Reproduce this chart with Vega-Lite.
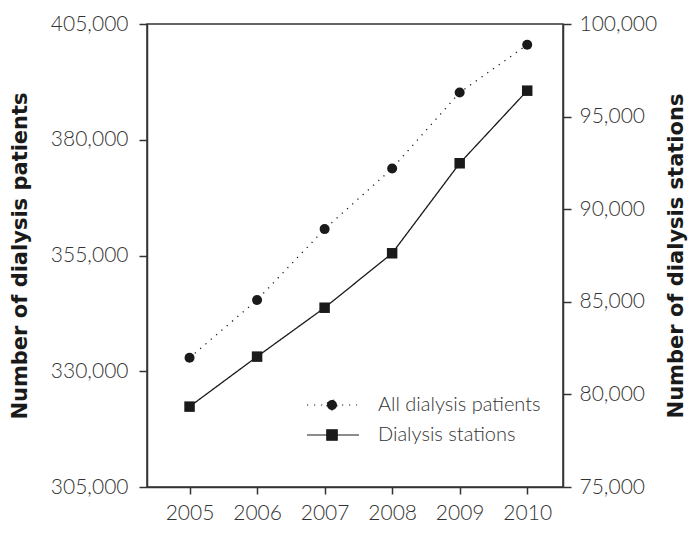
{
  "$schema": "https://vega.github.io/schema/vega-lite/v6.json",
  "width": 416,
  "height": 463,
  "autosize": "none",
  "padding": {"left": 147, "top": 24, "right": 126, "bottom": 46},
  "background": "white",
  "data": {
    "values": [
      {"year": 2005, "patients": 332900, "stations": 79340},
      {"year": 2006, "patients": 345400, "stations": 82040},
      {"year": 2007, "patients": 360700, "stations": 84680},
      {"year": 2008, "patients": 373800, "stations": 87620},
      {"year": 2009, "patients": 390200, "stations": 92480},
      {"year": 2010, "patients": 400500, "stations": 96400}
    ]
  },
  "encoding": {
    "x": {
      "field": "year",
      "type": "quantitative",
      "scale": {"domain": [2004.37, 2010.53], "nice": false, "zero": false},
      "axis": {
        "title": null,
        "values": [2005, 2006, 2007, 2008, 2009, 2010],
        "format": "d",
        "labelOverlap": false,
        "tickSize": 7,
        "labelPadding": 8,
        "grid": false
      }
    }
  },
  "layer": [
    {
      "encoding": {
        "y": {
          "field": "patients",
          "type": "quantitative",
          "scale": {"domain": [305000, 405000], "nice": false, "zero": false},
          "axis": {
            "orient": "left",
            "title": "Number of dialysis patients",
            "values": [305000, 330000, 355000, 380000, 405000],
            "format": ",.0f",
            "labelOverlap": false,
            "tickSize": 8,
            "labelPadding": 11,
            "titleX": -127,
            "titleY": 231.5,
            "titleAngle": -90,
            "titleBaseline": "middle",
            "titleAlign": "center",
            "grid": false
          }
        }
      },
      "layer": [
        {
          "mark": {"type": "line", "strokeWidth": 1.3, "color": "#1a1a1a"},
          "encoding": {
            "strokeDash": {
              "datum": "All dialysis patients",
              "type": "nominal",
              "scale": {"domain": ["All dialysis patients", "Dialysis stations"], "range": [[1.2, 5.8], [1, 0]]},
              "legend": {
                "title": null,
                "encode": {
                  "symbols": {
                    "update": {
                      "shape": {"signal": "datum.value === 'All dialysis patients' ? 'M-2.5,0H2.5M-0.5,0A0.5,0.5,0,1,0,0.5,0A0.5,0.5,0,1,0,-0.5,0Z' : 'M-2.5,0H2.7M-0.52,-0.52H0.52V0.52H-0.52Z'"},
                      "fill": {"value": "#1a1a1a"},
                      "stroke": {"value": "#1a1a1a"},
                      "strokeWidth": {"value": 1.2}
                    }
                  }
                }
              }
            }
          }
        },
        {
          "mark": {"type": "point", "shape": "circle", "filled": true, "size": 100, "color": "#1a1a1a", "opacity": 1}
        }
      ]
    },
    {
      "encoding": {
        "y": {
          "field": "stations",
          "type": "quantitative",
          "scale": {"domain": [75000, 100000], "nice": false, "zero": false},
          "axis": {
            "orient": "right",
            "title": "Number of dialysis stations",
            "values": [75000, 80000, 85000, 90000, 95000, 100000],
            "format": ",.0f",
            "labelOverlap": false,
            "tickSize": 8,
            "labelPadding": 8,
            "titleX": 113,
            "titleY": 231.5,
            "titleAngle": -90,
            "titleBaseline": "middle",
            "titleAlign": "center",
            "grid": false
          }
        }
      },
      "layer": [
        {
          "mark": {"type": "line", "strokeWidth": 1.3, "color": "#1a1a1a"},
          "encoding": {
            "strokeDash": {
              "datum": "Dialysis stations",
              "type": "nominal",
              "legend": {"title": null}
            }
          }
        },
        {
          "mark": {"type": "point", "shape": "square", "filled": true, "size": 110, "color": "#1a1a1a", "opacity": 1}
        }
      ]
    }
  ],
  "resolve": {"scale": {"y": "independent"}},
  "config": {
    "view": {"stroke": "#333", "strokeWidth": 1.5},
    "axis": {
      "domainColor": "#333",
      "domainWidth": 1.5,
      "tickColor": "#333",
      "tickWidth": 1.5,
      "labelFont": "Lato",
      "labelFontWeight": 300,
      "labelFontSize": 21,
      "labelColor": "#333",
      "titleFont": "DejaVu Sans",
      "titleFontWeight": "bold",
      "titleFontSize": 21,
      "titleColor": "#1a1a1a"
    },
    "axisX": {"labelOverlap": false},
    "legend": {
      "orient": "none",
      "legendX": 174,
      "legendY": 370,
      "symbolSize": 400,
      "symbolStrokeWidth": 1.2,
      "symbolStrokeColor": "#1a1a1a",
      "symbolFillColor": "#1a1a1a",
      "labelFont": "Lato",
      "labelFontWeight": 300,
      "labelFontSize": 20,
      "labelLimit": 300,
      "labelColor": "#333",
      "labelOffset": 35,
      "rowPadding": 9
    }
  }
}
